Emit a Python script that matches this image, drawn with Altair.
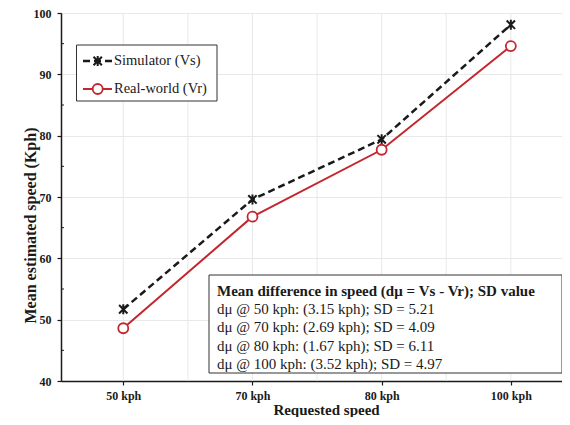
import altair as alt
import pandas as pd

# ---- data ----
categories = ["50 kph", "70 kph", "80 kph", "100 kph"]
simulator = [51.7, 69.6, 79.4, 98.1]
real_world = [48.6, 66.8, 77.7, 94.6]
series_names = ["Simulator (Vs)", "Real-world (Vr)"]
y_ticks = [40, 50, 60, 70, 80, 90, 100]
y_minor = [45, 55, 65, 75, 85, 95]
x_grid = [0, 0.5, 1, 1.5, 2, 2.5, 3]
note_title = "Mean difference in speed (dμ = Vs - Vr); SD value"
note_lines = [
    "dμ @ 50 kph: (3.15 kph); SD = 5.21",
    "dμ @ 70 kph: (2.69 kph); SD = 4.09",
    "dμ @ 80 kph: (1.67 kph); SD = 6.11",
    "dμ @ 100 kph: (3.52 kph); SD = 4.97",
]

W, H = 501, 368
FONT = "Liberation Serif"
RED = "#c4262e"
BLACK = "#1a1a1a"

sim_df = pd.DataFrame({"idx": range(len(categories)), "cat": categories, "value": simulator})
real_df = pd.DataFrame({"idx": range(len(categories)), "cat": categories, "value": real_world})
grid_df = pd.DataFrame({"idx": x_grid})
minor_df = pd.DataFrame({"value": y_minor})
one = pd.DataFrame({"a": [0]})

label_expr = "[" + ",".join("'%s'" % c for c in categories) + "][datum.value]"

xscale = alt.Scale(domain=[-0.482, 3.396], nice=False, zero=False)
yscale = alt.Scale(domain=[40, 100], nice=False, zero=False)

x_axis = alt.Axis(
    values=[0, 1, 2, 3],
    labelExpr=label_expr,
    grid=False,
    title="Requested speed",
    titleX=265,
    titleY=28,
    titleBaseline="middle",
    labelFontSize=12,
    labelFontWeight="bold",
    labelPadding=5,
    tickSize=4,
)
y_axis = alt.Axis(
    values=y_ticks,
    grid=True,
    title="Mean estimated speed (Kph)",
    titleFontSize=16,
    titleX=-31,
    titleY=212,
    titleBaseline="middle",
    titleAlign="center",
    titleAngle=-90,
    labelFontSize=12,
    labelFontWeight="bold",
    labelPadding=6,
    tickSize=4,
)


def X():
    return alt.X("idx:Q", scale=xscale, axis=x_axis)


def Y():
    return alt.Y("value:Q", scale=yscale, axis=y_axis)


grid = alt.Chart(grid_df).mark_rule(color="#e8e8e8", strokeWidth=1).encode(
    x=X(), y=alt.value(0), y2=alt.value(H)
)
minor = alt.Chart(minor_df).mark_rule(color=BLACK, strokeWidth=1).encode(
    y=Y(), x=alt.value(0), x2=alt.value(3)
)

sim_line = alt.Chart(sim_df).mark_line(color=BLACK, strokeWidth=2.5, strokeDash=[7, 4]).encode(x=X(), y=Y())
real_line = alt.Chart(real_df).mark_line(color=RED, strokeWidth=2).encode(x=X(), y=Y())

ASTER = "M-1,-1L1,1M-1,1L1,-1M0,-1.2L0,1.2"

sim_pts = alt.Chart(sim_df).mark_point(
    shape=ASTER, size=70, stroke=BLACK, strokeWidth=2, filled=False, opacity=1
).encode(x=X(), y=Y())
real_pts = alt.Chart(real_df).mark_point(
    shape="circle", size=100, stroke=RED, strokeWidth=1.8, fill="white", filled=False, opacity=1, fillOpacity=1
).encode(x=X(), y=Y())

# ---- legend (drawn by hand, top-left) ----
LX0, LX1, LY0, LY1 = 15.5, 156, 32, 88
row_y = [48, 76]
leg_box = alt.Chart(one).mark_rect(fill="white", stroke="#333333", strokeWidth=1).encode(
    x=alt.value(LX0), x2=alt.value(LX1), y=alt.value(LY0), y2=alt.value(LY1)
)
leg_sim_line = alt.Chart(one).mark_rule(color=BLACK, strokeWidth=2.5, strokeDash=[7, 4]).encode(
    x=alt.value(22), x2=alt.value(51), y=alt.value(row_y[0])
)
leg_sim_pt = alt.Chart(one).mark_point(
    shape=ASTER, size=70, stroke=BLACK, strokeWidth=2, filled=False, opacity=1
).encode(x=alt.value(36.7), y=alt.value(row_y[0]))
leg_real_line = alt.Chart(one).mark_rule(color=RED, strokeWidth=2).encode(
    x=alt.value(22), x2=alt.value(51), y=alt.value(row_y[1])
)
leg_real_pt = alt.Chart(one).mark_point(
    shape="circle", size=100, stroke=RED, strokeWidth=1.8, fill="white", filled=False, opacity=1, fillOpacity=1
).encode(x=alt.value(36.7), y=alt.value(row_y[1]))
leg_texts = [
    alt.Chart(one).mark_text(
        text=name, font=FONT, fontSize=14.5, align="left", baseline="middle", color=BLACK
    ).encode(x=alt.value(53), y=alt.value(ry))
    for name, ry in zip(series_names, row_y)
]

# ---- annotation box (bottom-right) ----
note_box = alt.Chart(one).mark_rect(fill="white", stroke="#333333", strokeWidth=1).encode(
    x=alt.value(148), x2=alt.value(W), y=alt.value(262), y2=alt.value(360)
)
note_layers = [
    alt.Chart(one).mark_text(
        text=note_title, font=FONT, fontSize=15, fontWeight="bold", align="left",
        baseline="middle", color=BLACK
    ).encode(x=alt.value(156), y=alt.value(277.5))
]
for i, line in enumerate(note_lines):
    note_layers.append(
        alt.Chart(one).mark_text(
            text=line, font=FONT, fontSize=15, align="left", baseline="middle", color=BLACK
        ).encode(x=alt.value(156), y=alt.value(296 + i * 18.4))
    )

chart = alt.layer(
    grid, minor, sim_line, real_line, sim_pts, real_pts,
    leg_box, leg_sim_line, leg_sim_pt, leg_real_line, leg_real_pt, *leg_texts,
    note_box, *note_layers,
).properties(
    width=W,
    height=H,
    autosize=alt.AutoSizeParams(type="none"),
    padding={"left": 53, "top": 5, "right": 0, "bottom": 36},
    background="white",
).configure_view(
    stroke="#333333", strokeWidth=1
).configure_axis(
    labelFont=FONT,
    titleFont=FONT,
    labelColor=BLACK,
    titleColor=BLACK,
    titleFontSize=15,
    titleFontWeight="bold",
    domainColor=BLACK,
    domainWidth=1.5,
    tickColor=BLACK,
    tickWidth=1.2,
    gridColor="#e8e8e8",
    gridWidth=1,
)

chart.save("out.html", embed_options={"renderer": "svg", "actions": False})
